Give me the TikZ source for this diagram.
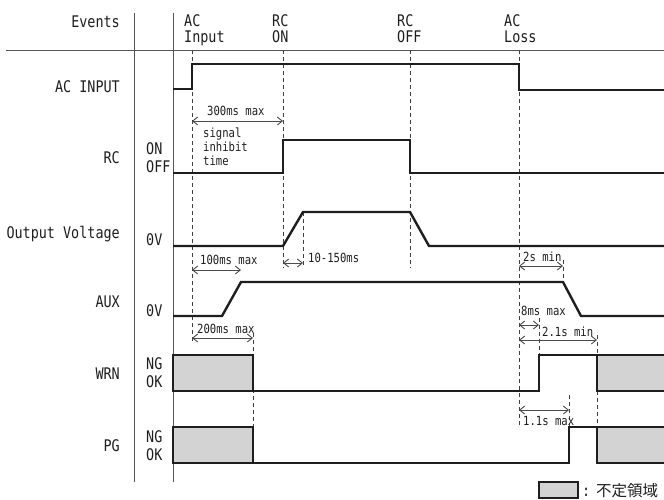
\documentclass[tikz,border=0pt]{standalone}
\usepackage{fontspec}
\newfontfamily\lblfont[FakeStretch=0.84]{DejaVu Sans Mono}
\newfontfamily\cjkfont{Noto Sans CJK JP}
\usetikzlibrary{arrows.meta}
\definecolor{sig}{HTML}{1E1E1E}
\definecolor{undef}{HTML}{D3D3D3}
\definecolor{rulec}{HTML}{555555}
\begin{document}
\begin{tikzpicture}[x=1pt,y=-1pt,
 sigline/.style={line width=2.4pt, draw=sig, line join=miter},
 sepline/.style={line width=1pt, draw=rulec},
 guide/.style={line width=0.9pt, draw=sig!85, dash pattern=on 4pt off 3pt},
 span/.style={line width=0.9pt, draw=sig!80, {Straight Barb[length=5pt,width=8pt]}-{Straight Barb[length=5pt,width=8pt]}},
 big/.style={font=\lblfont\fontsize{16}{16}\selectfont, inner sep=0pt, text=sig},
 small/.style={font=\lblfont\fontsize{12.6}{12.6}\selectfont, inner sep=0pt, text=sig},
 rlbl/.style={big, anchor=base east},
 vlbl/.style={big, anchor=base west},
 ann/.style={small, anchor=base west},
 undeffill/.style={fill=undef}]
\useasboundingbox (0,0) rectangle (664,499);
\clip (0,0) rectangle (664,499);

% grid / separators
\draw[sepline] (6,50) -- (664,50);
\draw[sepline] (134,13) -- (134,482);
\draw[sepline] (173,13) -- (173,482);

% header texts
\node[rlbl] (hev) at (120,27) {Events};
\node[vlbl] (hac1) at (184,26) {AC};
\node[vlbl] (hac2) at (184,42) {Input};
\node[vlbl] (hrc1) at (272,26) {RC};
\node[vlbl] (hrc2) at (272,42) {ON};
\node[vlbl] (hro1) at (397,26) {RC};
\node[vlbl] (hro2) at (397,42) {OFF};
\node[vlbl] (hal1) at (504,26) {AC};
\node[vlbl] (hal2) at (504,42) {Loss};

% row labels
\node[rlbl] (lac) at (120,92) {AC INPUT};
\node[rlbl] (lrc) at (120,163) {RC};
\node[rlbl] (lov) at (120,238) {Output Voltage};
\node[rlbl] (lax) at (120,307) {AUX};
\node[rlbl] (lwr) at (120,379) {WRN};
\node[rlbl] (lpg) at (120,451) {PG};

% level labels
\node[vlbl] (von) at (146,154) {ON};
\node[vlbl] (voff) at (146,172) {OFF};
\node[vlbl] (vov) at (146,245) {0V};
\node[vlbl] (vax) at (146,316) {0V};
\node[vlbl] (vwng) at (146,369) {NG};
\node[vlbl] (vwok) at (146,387) {OK};
\node[vlbl] (vpng) at (146,442) {NG};
\node[vlbl] (vpok) at (146,460) {OK};

% undefined regions (fills)
\fill[undeffill] (173,355) rectangle (253,391);
\fill[undeffill] (173,427) rectangle (253,463);
\fill[undeffill] (597,355) rectangle (668,391);
\fill[undeffill] (597,427) rectangle (668,463);

% dashed guides
\draw[guide] (192,50) -- (192,343);
\draw[guide] (283,50) -- (283,268);
\draw[guide] (410,50) -- (410,268);
\draw[guide] (519,50) -- (519,428);
\draw[guide] (303,212) -- (303,268);
\draw[guide] (253,333) -- (253,427);
\draw[guide] (563,260) -- (563,282);
\draw[guide] (539,318) -- (539,355);
\draw[guide] (597,335) -- (597,427);
\draw[guide] (569,395) -- (569,427);

% signals
\draw[sigline] (173,89) -- (192,89) -- (192,64) -- (519,64) -- (519,90) -- (668,90);
\draw[sigline] (173,173) -- (283,173) -- (283,140) -- (410,140) -- (410,173) -- (668,173);
\draw[sigline] (173,246) -- (283,246) -- (303,212) -- (410,212) -- (429,246) -- (668,246);
\draw[sigline] (173,316) -- (222,316) -- (241,282) -- (563,282) -- (581,316) -- (668,316);
% WRN
\draw[sigline] (173,355) rectangle (253,391);
\draw[sigline] (253,391) -- (539,391) -- (539,355) -- (668,355);
\draw[sigline] (597,355) -- (597,391) -- (668,391);
% PG
\draw[sigline] (173,427) rectangle (253,463);
\draw[sigline] (253,463) -- (569,463) -- (569,427) -- (668,427);
\draw[sigline] (597,427) -- (597,463) -- (668,463);

% timing spans
\coordinate (a300l) at (192,121); \coordinate (a300r) at (283,121);
\draw[span] (a300l) -- (a300r);
\node[ann] (t300) at (207,115) {300ms max};
\node[ann] (tsig1) at (203,137) {signal};
\node[ann] (tsig2) at (203,151) {inhibit};
\node[ann] (tsig3) at (203,165) {time};

\coordinate (a100l) at (192,270); \coordinate (a100r) at (241,270);
\draw[span] (a100l) -- (a100r);
\node[ann] (t100) at (200,264) {100ms max};

\coordinate (a10l) at (283,263); \coordinate (a10r) at (303,263);
\draw[span] (a10l) -- (a10r);
\node[ann] (t10) at (308,262) {10-150ms};

\coordinate (a200l) at (192,338); \coordinate (a200r) at (253,338);
\draw[span] (a200l) -- (a200r);
\node[ann] (t200) at (197,333) {200ms max};

\coordinate (a2sl) at (519,266); \coordinate (a2sr) at (563,266);
\draw[span] (a2sl) -- (a2sr);
\node[ann] (t2s) at (523,261) {2s min};

\coordinate (a8l) at (519,325); \coordinate (a8r) at (539,325);
\draw[span] (a8l) -- (a8r);
\node[ann] (t8) at (521,315) {8ms max};

\coordinate (a21l) at (519,340); \coordinate (a21r) at (597,340);
\draw[span] (a21l) -- (a21r);
\node[ann] (t21) at (542,336) {2.1s min};

\coordinate (a11l) at (519,410); \coordinate (a11r) at (569,410);
\draw[span] (a11l) -- (a11r);
\node[ann] (t11) at (523,425) {1.1s max};

% legend
\draw[undeffill, draw=sig, line width=2pt] (539,482) rectangle (578,498);
\node[big, anchor=base west] (legc) at (582,496) {:};
\node[anchor=base west, inner sep=0pt, text=sig, font=\cjkfont\fontsize{15.5}{15.5}\selectfont] (legt) at (596,496) {不定領域};
\end{tikzpicture}
\end{document}
